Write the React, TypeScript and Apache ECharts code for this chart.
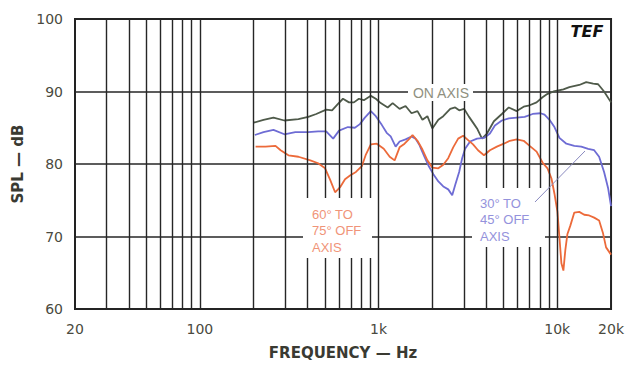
import React, { useEffect, useRef } from "react";
import * as echarts from "echarts";

// Axis values
const xLabelValues = [20, 100, 1000, 10000, 20000];
const verticalGridValues = [
  30, 40, 50, 60, 70, 80, 90, 100,
  200, 300, 400, 500, 600, 700, 800, 900, 1000,
  2000, 3000, 4000, 5000, 6000, 7000, 8000, 9000, 10000,
];
const yMin = 60;
const yMax = 100;
const yStep = 10;

// Series: [frequency Hz, SPL dB]
const onAxis: [number, number][] = [
  [200, 85.7], [227, 86.1], [258, 86.4], [297, 86.0], [356, 86.2], [404, 86.5], [448, 86.9],
  [509, 87.5], [549, 87.4], [593, 88.3], [632, 89.0], [683, 88.5], [728, 88.5], [776, 89.0],
  [827, 88.8], [905, 89.4], [965, 89.0], [1028, 88.4], [1125, 87.8], [1199, 88.4], [1311, 87.6],
  [1416, 88.0], [1529, 87.0], [1651, 87.3], [1760, 86.1], [1876, 86.6], [2000, 84.9], [2160, 86.1],
  [2302, 86.6], [2518, 87.6], [2684, 87.8], [2825, 87.4], [3012, 87.6], [3210, 86.5], [3423, 85.5],
  [3557, 84.9], [3791, 83.5], [4042, 84.2], [4420, 85.9], [4897, 86.9], [5356, 87.8], [5933, 87.3],
  [6488, 87.9], [7006, 88.1], [7662, 88.5], [8274, 89.2], [8708, 89.6], [9524, 90.0], [10823, 90.3],
  [11687, 90.6], [13282, 90.9], [14526, 91.3], [15886, 91.1], [16936, 91.0], [18287, 90.0], [20000, 88.5],
];

const off30to45: [number, number][] = [
  [203, 84.0], [227, 84.4], [258, 84.7], [297, 84.1], [342, 84.4], [404, 84.4], [459, 84.5],
  [509, 84.5], [557, 83.5], [601, 84.6], [674, 85.1], [737, 85.0], [786, 85.5], [838, 86.4],
  [905, 87.3], [965, 86.6], [1042, 85.4], [1110, 84.3], [1169, 83.8], [1246, 82.4], [1311, 83.1],
  [1416, 83.4], [1529, 83.8], [1609, 83.5], [1694, 82.6], [1805, 81.0], [1900, 79.8], [2026, 78.6],
  [2160, 77.6], [2302, 76.9], [2454, 76.5], [2583, 75.7], [2684, 77.1], [2825, 78.9], [2936, 80.8],
  [3050, 82.1], [3252, 83.1], [3557, 83.5], [3890, 83.6], [4200, 84.2], [4477, 85.3], [4897, 86.0],
  [5356, 86.3], [5933, 86.4], [6572, 86.5], [7280, 86.9], [8065, 87.0], [8488, 86.8], [9049, 86.1],
  [9646, 85.1], [10284, 83.6], [11247, 82.8], [12459, 82.5], [13626, 82.4], [14903, 82.1],
  [16091, 81.9], [17154, 81.0], [18287, 78.9], [19247, 76.7], [20000, 74.2],
];

const off60to75: [number, number][] = [
  [205, 82.4], [233, 82.4], [265, 82.5], [283, 81.9], [313, 81.2], [356, 81.0], [415, 80.5],
  [459, 80.1], [502, 79.4], [536, 77.8], [571, 76.1], [609, 76.8], [649, 77.9], [692, 78.4],
  [747, 78.9], [806, 79.7], [849, 81.3], [905, 82.7], [977, 82.8], [1069, 82.1], [1154, 81.0],
  [1230, 80.5], [1311, 82.3], [1398, 82.8], [1490, 83.5], [1549, 84.0], [1651, 83.2], [1760, 82.0],
  [1876, 80.5], [2000, 79.5], [2160, 79.4], [2302, 79.9], [2454, 80.8], [2616, 82.3], [2789, 83.5],
  [2973, 83.9], [3170, 83.3], [3379, 82.7], [3602, 81.9], [3890, 81.2], [4200, 81.9], [4593, 82.4],
  [5024, 82.8], [5425, 83.2], [5933, 83.4], [6488, 83.2], [7006, 82.5], [7662, 81.7], [8274, 80.2],
  [8820, 79.4], [9283, 78.0], [9646, 75.9], [10024, 73.4], [10284, 69.9], [10550, 66.3],
  [10823, 65.3], [11104, 68.2], [11392, 70.3], [11837, 71.5], [12459, 73.3], [13282, 73.4],
  [14159, 73.0], [15094, 72.9], [16091, 72.6], [17154, 72.2], [18054, 70.4], [18761, 68.5], [20000, 67.5],
];

const labelFont = "DejaVu Sans";
const annFont = "Liberation Sans";

function fmtFreq(v: number): string {
  const r = Math.round(v);
  return r >= 1000 ? `${Math.round(r / 1000)}k` : String(r);
}

export default function App() {
  const ref = useRef<HTMLDivElement>(null);

  useEffect(() => {
    if (!ref.current) return;
    const chart = echarts.init(ref.current, undefined, { renderer: "svg" });
    const gridColor = "#262626";
    chart.setOption({
      animation: false,
      backgroundColor: "#ffffff",
      grid: {
        left: 75,
        right: 12,
        top: 19,
        bottom: 53,
        show: true,
        borderColor: "#222",
        borderWidth: 2,
      },
      xAxis: {
        type: "log",
        logBase: 10,
        min: 20,
        max: 20000,
        name: "FREQUENCY — Hz",
        nameLocation: "middle",
        nameGap: 36,
        nameTextStyle: { fontFamily: labelFont, fontWeight: "bold", fontSize: 15, color: "#3a3a32" },
        axisLine: { show: false },
        axisTick: { show: false },
        splitLine: { show: false },
        axisLabel: {
          customValues: xLabelValues,
          formatter: (v: number) => fmtFreq(v),
          fontFamily: labelFont,
          fontSize: 14,
          color: "#4a4a40",
          margin: 13,
          showMinLabel: true,
          showMaxLabel: true,
        },
      },
      yAxis: {
        type: "value",
        min: yMin,
        max: yMax,
        interval: yStep,
        name: "SPL — dB",
        nameLocation: "middle",
        nameGap: 46,
        nameTextStyle: { fontFamily: labelFont, fontWeight: "bold", fontSize: 15, color: "#3a3a32" },
        axisLine: { show: false },
        axisTick: { show: false },
        axisLabel: { fontFamily: labelFont, fontSize: 14, color: "#4a4a40", margin: 12 },
        splitLine: { show: true, lineStyle: { color: gridColor, width: 1.5 } },
      },
      series: [
        {
          type: "line",
          name: "grid",
          data: [[20, 60]],
          symbol: "none",
          showSymbol: false,
          silent: true,
          z: 1,
          lineStyle: { opacity: 0 },
          markLine: {
            silent: true,
            symbol: ["none", "none"],
            label: { show: false },
            lineStyle: { color: gridColor, width: 1.4, type: "solid" },
            emphasis: { disabled: true },
            data: verticalGridValues.map((v) => ({ xAxis: v })),
          },
        },
        {
          type: "line",
          name: "ON AXIS",
          data: onAxis,
          symbol: "none",
          showSymbol: false,
          z: 3,
          lineStyle: { color: "#4f5a4a", width: 1.8 },
        },
        {
          type: "line",
          name: "30° TO 45° OFF AXIS",
          data: off30to45,
          symbol: "none",
          showSymbol: false,
          z: 3,
          lineStyle: { color: "#6e6cd4", width: 1.8 },
        },
        {
          type: "line",
          name: "60° TO 75° OFF AXIS",
          data: off60to75,
          symbol: "none",
          showSymbol: false,
          z: 3,
          lineStyle: { color: "#ec6a3a", width: 1.8 },
        },
      ],
      graphic: [
        { type: "rect", z: 100, shape: { x: 408, y: 84, width: 65, height: 17 }, style: { fill: "#ffffff" } },
        {
          type: "text", z: 101, x: 441, y: 93,
          style: { text: "ON AXIS", fill: "#8f9080", font: `14px "${annFont}"`, align: "center", verticalAlign: "middle" },
        },
        { type: "rect", z: 100, shape: { x: 303, y: 198, width: 69, height: 60 }, style: { fill: "#ffffff" } },
        {
          type: "text", z: 101, x: 312, y: 206,
          style: { text: "60° TO\n75° OFF\nAXIS", fill: "#f09478", font: `13px "${annFont}"`, lineHeight: 16.5, align: "left", verticalAlign: "top" },
        },
        { type: "rect", z: 100, shape: { x: 472, y: 188, width: 73, height: 59 }, style: { fill: "#ffffff" } },
        {
          type: "text", z: 101, x: 480, y: 195,
          style: { text: "30° TO\n45° OFF\nAXIS", fill: "#9492dc", font: `13px "${annFont}"`, lineHeight: 16.5, align: "left", verticalAlign: "top" },
        },
        {
          type: "line", z: 101,
          shape: { x1: 535, y1: 202, x2: 585, y2: 151 },
          style: { stroke: "#8a8ac0", lineWidth: 1 },
        },
        {
          type: "text", z: 101, x: 587, y: 31,
          style: { text: "TEF", fill: "#111", font: `italic 900 16px "${labelFont}"`, align: "center", verticalAlign: "middle" },
        },
      ],
    });
    return () => chart.dispose();
  }, []);

  return (
    <div
      ref={ref}
      style={{ position: "fixed", left: 0, top: 0, width: 627, height: 365, background: "#fff" }}
    />
  );
}
